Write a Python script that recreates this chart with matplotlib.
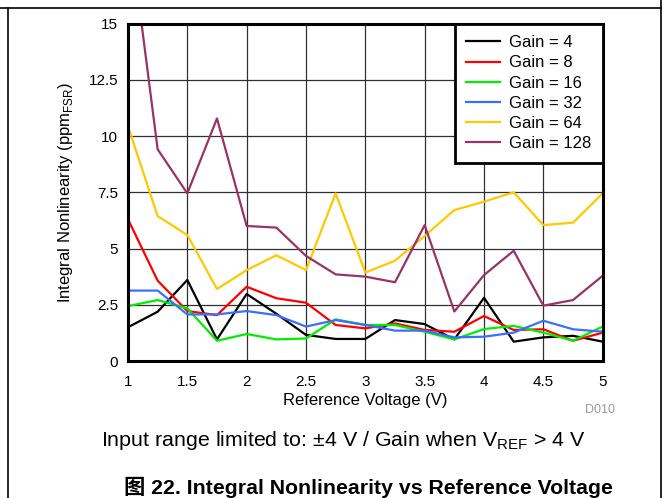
import matplotlib
matplotlib.use("Agg")
import matplotlib.pyplot as plt
from matplotlib.lines import Line2D

plt.rcParams['font.family'] = ['Liberation Sans', 'Noto Sans CJK SC', 'DejaVu Sans']
plt.rcParams['mathtext.fontset'] = 'custom'
plt.rcParams['mathtext.rm'] = 'Liberation Sans'

# Reference voltage (V)
vref = [1.0, 1.25, 1.5, 1.75, 2.0, 2.25, 2.5, 2.75, 3.0, 3.25, 3.5, 3.75, 4.0, 4.25, 4.5, 4.75, 5.0]

# INL (ppmFSR) per gain
gain4 = [1.50, 2.19, 3.60, 0.96, 2.98, 2.10, 1.16, 0.98, 0.98, 1.82, 1.64, 0.96, 2.81, 0.86, 1.05, 1.12, 0.86]
gain8 = [6.30, 3.57, 2.22, 2.04, 3.30, 2.79, 2.59, 1.60, 1.45, 1.67, 1.38, 1.30, 2.00, 1.38, 1.41, 0.90, 1.26]
gain16 = [2.44, 2.71, 2.34, 0.90, 1.20, 0.96, 1.00, 1.85, 1.60, 1.60, 1.30, 0.96, 1.42, 1.56, 1.26, 0.90, 1.53]
gain32 = [3.13, 3.13, 2.07, 2.07, 2.22, 2.04, 1.53, 1.82, 1.60, 1.35, 1.35, 1.05, 1.08, 1.26, 1.79, 1.41, 1.30]
gain64 = [10.44, 6.44, 5.60, 3.20, 4.04, 4.70, 4.04, 7.45, 3.93, 4.46, 5.56, 6.71, 7.08, 7.50, 6.04, 6.15, 7.45]
gain128 = [19.7, 9.41, 7.45, 10.78, 6.00, 5.93, 4.67, 3.85, 3.75, 3.50, 6.04, 2.20, 3.82, 4.90, 2.46, 2.71, 3.79]

series = [
    ("Gain = 4", gain4, "#000000"),
    ("Gain = 8", gain8, "#FF0000"),
    ("Gain = 16", gain16, "#00EE00"),
    ("Gain = 32", gain32, "#3A6EFF"),
    ("Gain = 64", gain64, "#FFC800"),
    ("Gain = 128", gain128, "#993366"),
]

fig = plt.figure(figsize=(6.69, 4.98), dpi=100)
ax = fig.add_axes([0.1913, 0.2751, 0.7096, 0.6777])

for label, vals, col in series:
    ax.plot(vref, vals, color=col, lw=1.6, label=label)

ax.set_xlim(1, 5)
ax.set_ylim(0, 15)
ax.set_xticks([1, 1.5, 2, 2.5, 3, 3.5, 4, 4.5, 5])
ax.set_xticklabels(["1", "1.5", "2", "2.5", "3", "3.5", "4", "4.5", "5"])
ax.set_yticks([0, 2.5, 5, 7.5, 10, 12.5, 15])
ax.set_yticklabels(["0", "2.5", "5", "7.5", "10", "12.5", "15"])
ax.tick_params(axis="x", length=0, labelsize=11, pad=10)
ax.tick_params(axis="y", length=0, labelsize=11, pad=7)
ax.grid(True, color="#303030", lw=0.9)
ax.set_axisbelow(True)
for s in ax.spines.values():
    s.set_linewidth(2.2)

ax.set_xlabel("Reference Voltage (V)", fontsize=12, labelpad=3)
ax.set_ylabel(r"Integral Nonlinearity (ppm$_{\mathrm{FSR}}$)", fontsize=12, labelpad=10)

leg = ax.legend(loc="upper right", fontsize=12, borderaxespad=0, fancybox=False,
                framealpha=1, edgecolor="black", handlelength=2.0, labelspacing=0.31,
                handletextpad=0.55, borderpad=0.7)
leg.get_frame().set_linewidth(2.0)

fig.text(600 / 669, 1 - 410 / 498, "D010", color="#999999", fontsize=9, ha="center", va="center")
fig.text(343 / 669, 1 - 440 / 498, r"Input range limited to: ±4 V / Gain when V$_{\mathrm{REF}}$ > 4 V",
         fontsize=15.4, ha="center", va="center")
fig.text(368 / 669, 1 - 487 / 498, "图 22. Integral Nonlinearity vs Reference Voltage",
         fontsize=15.3, fontweight="bold", ha="center", va="center")

# outer frame lines
fig.add_artist(Line2D([8 / 669, 8 / 669], [0, 1 - 8 / 498], color="black", lw=1.2, transform=fig.transFigure))
fig.add_artist(Line2D([661 / 669, 661 / 669], [0, 1], color="black", lw=1.2, transform=fig.transFigure))
fig.add_artist(Line2D([0, 661 / 669], [1 - 8 / 498, 1 - 8 / 498], color="black", lw=1.2, transform=fig.transFigure))

fig.savefig("out.png", dpi=100)
